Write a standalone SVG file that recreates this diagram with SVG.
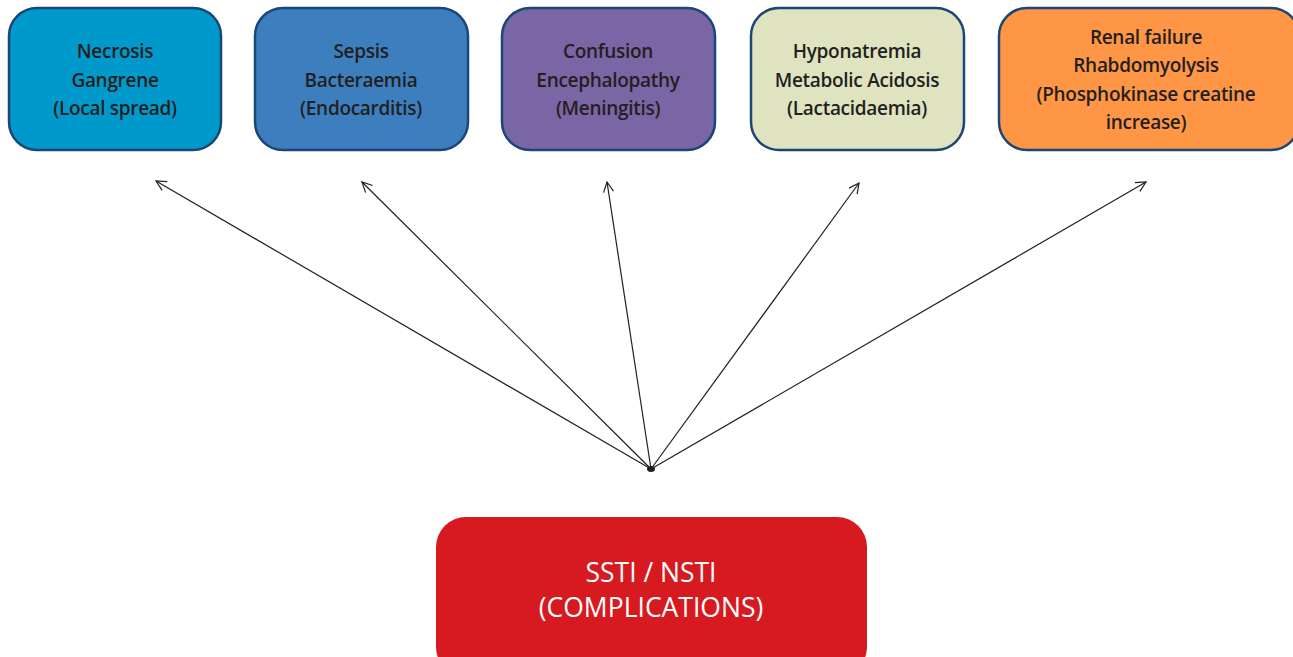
<svg xmlns="http://www.w3.org/2000/svg" width="1293" height="657" viewBox="0 0 1293 657">
<style>
.box{stroke:#1b4677;stroke-width:2.5}
.t{font-family:"Open Sans","Liberation Sans",sans-serif;font-size:19px;font-weight:600;fill:#231f20;text-anchor:middle;letter-spacing:-0.3px}
.big{font-family:"Open Sans","Liberation Sans",sans-serif;font-size:26.5px;fill:#ffffff;text-anchor:middle}
.c{stroke:#231f20;stroke-width:1.2;fill:none;marker-end:url(#ah)}
</style>
<defs>
<marker id="ah" viewBox="0 0 12 12" refX="11" refY="6" markerWidth="12" markerHeight="12" markerUnits="userSpaceOnUse" orient="auto">
<path d="M1,1 L11,6 L1,11" fill="none" stroke="#231f20" stroke-width="1.2"/>
</marker>
</defs>
<rect width="1293" height="657" fill="#ffffff"/>
<g id="n1"><rect class="box" x="9" y="8" width="212" height="142" rx="28" fill="#0099cc"/>
<text class="t" x="115" y="58">Necrosis</text><text class="t" x="115" y="87">Gangrene</text><text class="t" x="115" y="115">(Local spread)</text></g>
<g id="n2"><rect class="box" x="255" y="8" width="213" height="142" rx="28" fill="#3d7ebf"/>
<text class="t" x="361" y="58">Sepsis</text><text class="t" x="361" y="87">Bacteraemia</text><text class="t" x="361" y="115">(Endocarditis)</text></g>
<g id="n3"><rect class="box" x="502" y="8" width="213" height="142" rx="28" fill="#7a65a5"/>
<text class="t" x="608" y="58">Confusion</text><text class="t" x="608" y="87">Encephalopathy</text><text class="t" x="608" y="115">(Meningitis)</text></g>
<g id="n4"><rect class="box" x="751" y="8" width="213" height="142" rx="28" fill="#dfe3bf"/>
<text class="t" x="857" y="58">Hyponatremia</text><text class="t" x="857" y="87">Metabolic Acidosis</text><text class="t" x="857" y="115">(Lactacidaemia)</text></g>
<g id="n5"><rect class="box" x="999" y="8" width="300" height="142" rx="28" fill="#ff9645"/>
<text class="t" x="1146" y="44">Renal failure</text><text class="t" x="1146" y="72">Rhabdomyolysis</text><text class="t" x="1146" y="101">(Phosphokinase creatine</text><text class="t" x="1146" y="129">increase)</text></g>
<g id="n6"><rect x="436" y="517" width="431" height="160" rx="30" fill="#d71920"/>
<text class="big" x="651" y="582">SSTI / NSTI</text><text class="big" x="651" y="617">(COMPLICATIONS)</text></g>
<g id="connectors">
<line class="c" x1="651" y1="469" x2="156" y2="181"/>
<line class="c" x1="651" y1="469" x2="362" y2="182"/>
<line class="c" x1="651" y1="469" x2="607" y2="182"/>
<line class="c" x1="651" y1="469" x2="859" y2="183"/>
<line class="c" x1="651" y1="469" x2="1146" y2="182"/>
<ellipse cx="651" cy="469" rx="4" ry="3" fill="#231f20"/>
</g>
</svg>
